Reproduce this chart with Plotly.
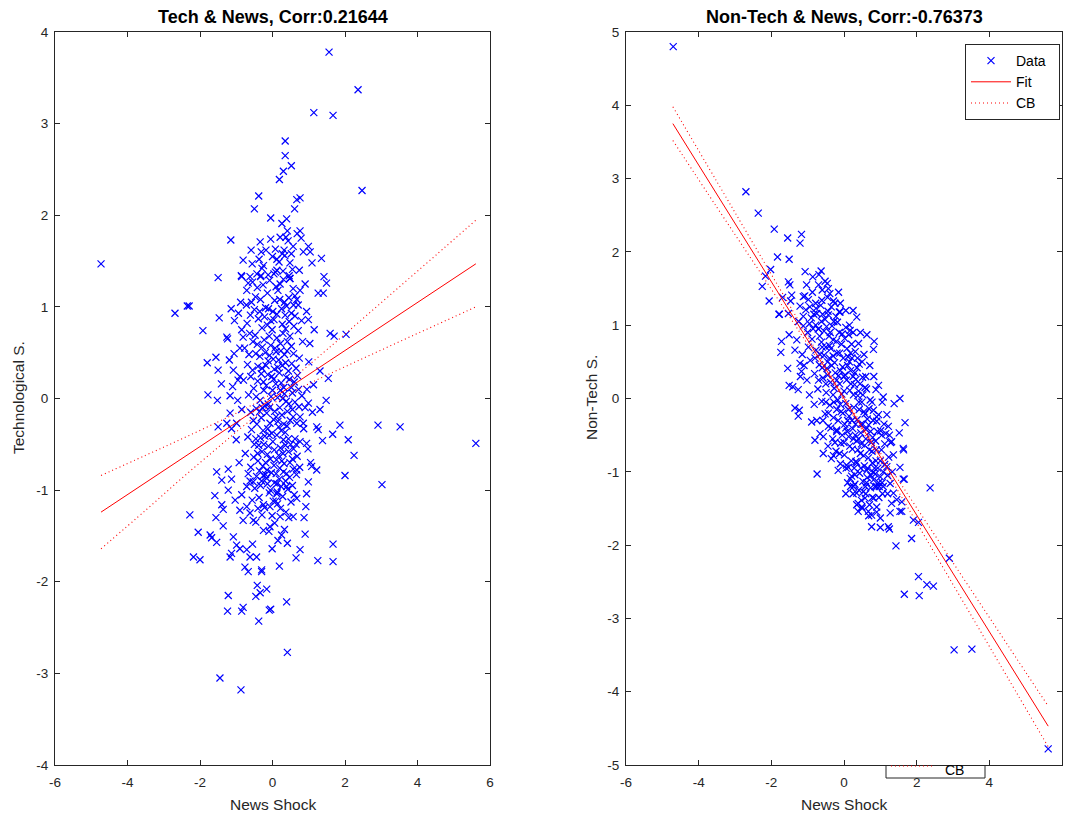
import plotly.graph_objects as go

# ---------------- data ----------------
tech_points = [
    (-4.73, 1.47), (5.61, -0.49), (1.56, 3.78), (2.36, 3.37), (1.14, 3.12), (1.67, 3.09),
    (2.47, 2.27), (2.91, -0.29), (3.52, -0.31), (3.02, -0.94), (2.25, -0.62), (2.0, -0.84),
    (1.67, -1.59), (1.67, -1.78), (1.25, -1.77), (-2.69, 0.93), (-2.3, 1.01), (-2.28, -1.27),
    (-2.18, -1.73), (-2.0, -1.76), (-1.45, -3.05), (-0.87, -3.18), (0.41, -2.77),
    (0.35, 2.81), (0.35, 2.65), (0.52, 2.54), (0.30, 2.48), (0.19, 2.39), (-0.38, 2.21),
    (0.76, 2.19), (0.67, 2.17), (-0.50, 2.07), (0.61, 2.07), (-0.05, 1.97), (0.39, 1.96),
    (0.26, 1.91), (0.41, 1.83), (0.76, 1.83), (0.68, 1.80), (-1.15, 1.73), (-0.34, 1.71),
    (-0.05, 1.74), (0.21, 1.76), (0.37, 1.76), (0.79, 1.75), (-0.59, 1.62), (0.08, 1.63),
    (0.32, 1.62), (0.57, 1.66), (0.99, 1.66), (0.85, 1.60), (1.04, 1.60), (1.35, 1.53),
    (-0.81, 1.51), (0.12, 1.52), (0.34, 1.56), (-0.56, 1.47), (0.48, 1.48), (1.09, 1.48),
    (-0.29, 1.42), (0.74, 1.40), (0.12, 1.40), (-1.50, 1.32), (-0.86, 1.34), (-0.62, 1.33),
    (-0.32, 1.34), (0.04, 1.36), (0.46, 1.34), (1.42, 1.33),
    (-2.35, 1.01), (-1.14, 0.98), (-1.47, 0.88), (-1.92, 0.74), (-1.24, 0.65), (-1.56, 0.45),
    (-1.80, 0.39), (-1.50, 0.31), (-1.41, 0.16), (-1.78, 0.04), (-1.52, -0.02), (-1.17, 0.03),
    (-1.10, 0.13), (-1.06, 0.49), (-1.19, 0.42), (1.59, 0.71), (2.03, 0.70), (1.70, 0.68),
    (1.03, 0.60), (1.54, 0.22), (1.31, 0.30), (1.48, -0.02), (1.31, -0.12), (1.86, -0.29),
    (1.22, -0.31), (0.99, -0.05), (1.13, 0.15), (0.94, 0.95), (0.99, 0.86), (1.26, 1.15),
    (1.40, 1.15), (1.49, 1.26), (0.48, 1.31), (0.76, 1.18), (0.67, 1.08), (-0.33, 1.33),
    (-0.67, 1.26), (-0.71, 1.18), (-0.85, 1.33), (-0.94, 0.93), (-0.85, 0.75), (-0.81, 0.67),
    (-1.26, 0.67), (-1.08, 0.31), (-0.90, 0.24), (-1.17, -0.16), (-0.99, -0.27), (-1.26, -0.27),
    (0.76, -0.20), (0.85, -0.27),
    (-1.50, -0.31), (-1.13, -0.33), (1.26, -0.34), (1.66, -0.39), (2.09, -0.45), (1.38, -0.46),
    (0.94, -0.49), (0.76, -0.47), (-1.54, -0.80), (-1.22, -0.77), (-1.40, -0.89), (-1.13, -0.88),
    (-1.22, -1.00), (-1.59, -1.06), (-1.40, -1.16), (-1.36, -1.21), (-1.56, -1.30), (-1.36, -1.39),
    (-2.05, -1.46), (-1.72, -1.49), (-1.68, -1.52), (-1.54, -1.57), (-1.08, -1.51), (-0.99, -1.60),
    (-0.90, -1.64), (-1.13, -1.69), (-1.17, -1.73), (-0.71, -1.65), (-0.55, -1.59), (-0.62, -1.73),
    (-0.44, -1.73), (-0.76, -1.84), (-0.67, -1.89), (-0.30, -1.87), (0.19, -1.83), (-0.01, -1.64),
    (0.25, -1.49), (0.41, -1.58), (0.76, -1.65), (0.65, -1.74), (0.90, -1.48), (0.87, -1.30),
    (0.92, -1.18), (0.57, -1.29), (0.21, -1.29), (0.94, -1.04), (0.67, -1.09), (0.99, -0.91),
    (1.22, -0.78), (1.08, -0.74), (0.67, -0.78), (0.39, -0.82), (0.12, -1.04), (-0.07, -1.18),
    (-0.25, -1.16), (-0.71, -1.18), (-0.62, -1.25), (-0.53, -1.33), (-0.25, -1.44), (-0.07, -1.40),
    (-0.85, -1.05), (-1.03, -1.11), (-0.90, -1.22), (-0.81, -1.33), (-0.71, -0.96), (-0.53, -0.91),
    (-0.16, -0.87), (0.12, -0.93), (0.39, -0.96), (-0.67, -0.82), (-0.25, -0.84),
    (-0.30, -1.89), (-0.42, -2.04), (-0.16, -2.08), (-0.34, -2.12), (-0.46, -2.16), (-1.22, -2.15),
    (0.39, -2.22), (-1.24, -2.32), (-0.85, -2.32), (-0.81, -2.28), (-0.09, -2.31), (-0.05, -2.30),
    (-0.38, -2.43),
    (-0.42, 1.21), (0.15, 1.18), (0.33, 1.05), (-0.11, 0.98), (0.52, 0.93), (-0.61, 0.91),
    (0.04, 0.86), (0.27, 0.81), (-0.29, 0.77), (0.71, 0.74), (-0.48, 0.69), (0.12, 0.66),
    (0.41, 0.62), (-0.05, 0.58), (-0.77, 0.55), (0.23, 0.52), (0.58, 0.49), (-0.35, 0.46),
    (0.02, 0.43), (0.36, 0.39), (-0.18, 0.36), (0.65, 0.33), (-0.55, 0.31), (0.19, 0.28),
    (-0.02, 0.24), (0.47, 0.21), (-0.41, 0.19), (0.09, 0.16), (0.31, 0.12), (-0.24, 0.09),
    (0.55, 0.06), (-0.66, 0.04), (0.14, 0.01), (0.38, -0.03), (-0.12, -0.06), (0.73, -0.09),
    (-0.45, -0.11), (0.06, -0.14), (0.26, -0.18), (-0.31, -0.21), (0.49, -0.24), (-0.07, -0.27),
    (0.17, -0.31), (-0.58, -0.34), (0.35, -0.37), (-0.21, -0.41), (0.62, -0.44), (0.01, -0.47),
    (-0.38, -0.51), (0.22, -0.54), (0.44, -0.58), (-0.14, -0.61), (-0.52, -0.64), (0.11, -0.67),
    (0.32, -0.71), (-0.27, -0.74), (0.57, -0.77), (-0.03, -0.81), (-0.44, -0.85), (0.19, -0.88),
    (0.05, -0.92), (-0.33, -0.95), (0.42, -0.99), (-0.09, -1.03), (0.28, -1.07), (-0.56, -1.11),
    (0.14, -1.15), (-0.22, -1.19), (0.37, -1.24), (-0.01, -1.28),
    (-0.25, 1.45), (0.08, 1.38), (0.48, 1.31), (-0.55, 1.27), (0.21, 1.25), (-0.14, 1.15),
    (0.62, 1.12), (-0.33, 1.08), (0.39, 1.01), (-0.72, 1.02), (0.01, 0.95), (-0.22, 0.89),
    (0.46, 0.84), (0.83, 0.62), (-0.63, 0.71), (0.29, 0.71), (-0.09, 0.68), (0.52, 0.57),
    (-0.28, 0.56), (0.10, 0.51), (-0.46, 0.49), (0.74, 0.44), (-0.12, 0.41), (0.27, 0.36),
    (-0.69, 0.37), (0.44, 0.30), (-0.31, 0.27), (0.03, 0.21), (0.60, 0.18), (-0.17, 0.14),
    (-0.52, 0.11), (0.22, 0.09), (0.81, 0.03), (-0.04, 0.02), (-0.34, -0.02), (0.45, -0.06),
    (0.20, -0.10), (-0.60, -0.15), (-0.16, -0.16), (0.57, -0.20), (0.03, -0.23), (-0.43, -0.28),
    (0.31, -0.28), (0.86, -0.33), (-0.26, -0.35), (0.12, -0.40), (-0.68, -0.42), (0.50, -0.50),
    (-0.11, -0.52), (0.29, -0.60), (-0.40, -0.68), (0.68, -0.63), (0.04, -0.73), (-0.19, -0.83),
    (0.47, -0.86), (-0.62, -0.90), (0.24, -0.96), (-0.06, -1.00), (0.60, -1.05), (-0.37, -1.08),
    (0.09, -1.12),
    (-0.90, 0.55), (-0.95, 0.20), (-0.85, -0.12), (-1.00, -0.45), (-0.92, -0.70), (1.00, 0.40),
    (0.95, 0.10), (1.10, -0.15), (0.98, -0.55), (1.15, 0.75), (-1.05, 0.85), (-0.88, 1.05),
    (0.90, 1.25), (-0.96, -0.02), (1.05, -0.70),
    (-0.37, 1.52), (0.27, 1.58), (0.55, 1.41), (-0.08, 1.29), (0.18, 1.49), (-0.47, 1.11),
    (0.71, 1.02), (0.06, 1.07), (-0.19, 0.99), (0.35, 0.91), (-0.39, 0.87), (0.59, 0.79),
    (-0.01, 0.75), (0.22, 0.60), (-0.54, 0.62), (0.48, 0.68), (-0.23, 0.64), (0.07, 0.55),
    (0.33, 0.48), (-0.08, 0.47), (-0.60, 0.24), (0.14, 0.34), (0.53, 0.38), (-0.29, 0.33),
    (0.69, 0.25), (-0.13, 0.26), (0.38, 0.23), (-0.45, 0.02), (0.24, 0.17), (0.00, 0.09),
    (-0.21, -0.08), (0.62, -0.04), (0.33, 0.05), (-0.53, -0.24), (0.10, -0.20), (0.41, -0.14),
    (-0.35, -0.14), (0.67, -0.27), (0.24, -0.35), (-0.13, -0.33), (-0.46, -0.44), (0.44, -0.44),
    (0.05, -0.56), (-0.29, -0.58), (0.36, -0.51), (0.55, -0.66), (-0.06, -0.66), (0.20, -0.76),
    (-0.36, -0.79), (0.66, -0.83), (-0.14, -0.93), (0.36, -0.90), (-0.49, -0.98), (0.13, -1.02),
    (0.51, -1.13), (-0.29, -1.27), (0.22, -1.20), (-0.46, -1.35), (0.06, -1.36), (0.33, -1.43),
    (-0.18, 1.62), (0.43, 1.72), (0.00, 1.55), (0.29, 1.39), (-0.43, 1.36), (0.57, 1.20),
    (-0.26, 1.24), (0.20, 1.08), (-0.58, 1.05), (0.12, 0.92), (0.45, 1.10), (-0.35, 0.95),
    (0.62, 0.90), (-0.14, 0.80), (0.36, 0.76), (-0.42, 0.59), (0.17, 0.42), (-0.25, 0.18),
    (0.52, 0.12), (-0.09, -0.40), (0.30, -0.45), (-0.24, -0.50), (0.58, -0.55), (-0.41, -0.60),
    (0.17, -0.62), (-0.19, -0.70), (0.48, -0.70), (0.10, -0.82), (-0.30, -0.90), (0.30, -0.80),
    (-0.31, 1.60), (0.52, 1.58), (0.10, 1.22), (-0.50, 0.97), (0.25, 0.98), (-0.05, 0.85),
    (0.58, 1.02), (-0.70, 0.82), (0.40, 0.52), (-0.20, 0.50), (-0.65, 0.48), (0.05, 0.32),
    (0.72, 0.10), (-0.40, 0.35), (0.28, 0.00), (-0.28, -0.10), (0.55, -0.12), (-0.08, -0.10),
    (0.15, -0.25), (-0.50, -0.50), (0.40, -0.30), (-0.02, -0.38), (0.65, -0.50), (-0.33, -0.43),
    (0.26, -0.68), (-0.15, -0.78), (0.55, -0.95), (-0.40, -1.20), (0.02, -1.12), (0.45, -1.30),
    (-0.10, -1.45), (0.15, -1.55), (-0.60, -0.75), (0.75, -0.75), (0.80, 0.85), (-0.80, 0.20),
    (0.90, -0.10), (-0.75, -0.60), (0.30, 1.30), (-0.12, 1.35),
]

nontech_points = [
    (-4.70, 4.80), (5.62, -4.78), (-2.70, 2.82), (-2.36, 2.53), (-1.92, 2.31), (2.90, -2.18),
    (3.03, -3.43), (3.52, -3.42), (2.37, -1.22), (2.05, -1.69), (1.86, -1.91), (2.05, -2.43),
    (2.28, -2.54), (2.46, -2.56), (1.66, -2.67), (2.07, -2.69), (1.43, -2.01), (1.63, -1.10),
    (1.59, -1.41), (1.59, -1.54), (-0.74, -1.03),
    (-1.17, 2.24), (-1.55, 2.19), (-1.21, 2.12), (-1.83, 1.93), (-1.51, 1.90), (-2.02, 1.76),
    (-2.16, 1.67), (-1.07, 1.73), (-0.63, 1.74), (-0.69, 1.69), (-0.86, 1.66), (-2.25, 1.53),
    (-1.53, 1.59), (-1.49, 1.55), (-1.03, 1.55), (-0.46, 1.57), (-0.43, 1.50), (-1.44, 1.41),
    (-1.69, 1.38), (-2.06, 1.33), (-1.12, 1.39), (-0.39, 1.43), (-0.61, 1.34), (-0.29, 1.33),
    (-1.47, 1.33), (-1.21, 1.26), (-0.94, 1.25), (-0.77, 1.23), (-1.79, 1.15), (-0.13, 1.18),
    (0.35, 1.11), (-1.53, 1.16), (-1.12, 1.12), (-0.75, 1.16), (-0.43, 1.14),
    (-1.78, 1.15), (-0.11, 1.18), (0.17, 0.93), (0.63, 0.87), (0.83, 0.78), (0.81, 0.67),
    (-1.72, 0.78), (-1.74, 0.63), (-1.51, 0.87), (-1.35, 0.66), (-1.55, 0.41), (-1.21, 0.48),
    (-1.17, 0.37), (-1.51, 0.18), (-1.41, 0.16), (-1.26, 0.12), (-1.35, -0.13), (-1.23, -0.16),
    (-1.26, -0.24), (-0.89, -0.32), (-0.80, -0.57), (-0.57, -0.52), (-0.57, -0.75), (1.54, 0.00),
    (1.38, -0.07), (1.08, 0.02), (0.88, 0.12), (1.68, -0.33), (1.52, -0.47), (1.22, -0.38),
    (1.31, -0.59), (1.63, -0.68), (1.36, -0.77), (1.04, -0.50), (0.90, -0.25),
    (-0.29, -0.78), (-0.16, -0.98), (1.64, -0.70), (1.54, -0.94), (1.66, -1.10), (1.18, -0.93),
    (1.00, -1.07), (1.27, -1.16), (1.36, -1.29), (1.45, -1.38), (1.31, -1.43), (1.54, -1.54),
    (1.27, -1.56), (1.00, -1.63), (0.76, -1.75), (1.00, -1.76), (1.25, -1.78), (1.22, -1.75),
    (0.76, -1.59), (0.67, -1.54), (0.39, -1.54), (0.49, -1.48), (0.90, -1.48), (0.39, -1.43),
    (0.58, -1.36), (0.35, -1.29), (0.53, -1.27), (0.26, -1.20), (0.17, -1.09), (0.30, -1.04),
    (0.90, -1.20), (1.08, -1.20), (0.81, -1.11), (0.63, -0.98), (0.35, -0.88), (0.07, -0.91),
    (1.91, -1.66),
    (-0.95, 1.02), (-0.71, 0.95), (-0.52, 1.08), (-0.33, 0.99), (-0.18, 1.04), (0.05, 0.97),
    (-0.88, 0.81), (-0.62, 0.77), (-0.41, 0.85), (-0.21, 0.78), (0.02, 0.82), (0.21, 0.74),
    (-0.77, 0.66), (-0.55, 0.59), (-0.36, 0.68), (-0.12, 0.62), (0.11, 0.57), (0.31, 0.64),
    (-0.93, 0.52), (-0.68, 0.46), (-0.47, 0.41), (-0.26, 0.49), (-0.04, 0.43), (0.18, 0.38),
    (0.42, 0.47), (-0.81, 0.34), (-0.58, 0.28), (-0.37, 0.22), (-0.15, 0.31), (0.07, 0.25),
    (0.29, 0.19), (0.51, 0.29), (-0.72, 0.13), (-0.49, 0.08), (-0.27, 0.14), (-0.06, 0.06),
    (0.16, 0.11), (0.38, 0.04), (0.62, 0.13), (-0.61, -0.04), (-0.39, -0.09), (-0.17, -0.02),
    (0.05, -0.07), (0.27, -0.12), (0.49, -0.05), (0.72, -0.02), (-0.52, -0.21), (-0.29, -0.26),
    (-0.08, -0.18), (0.14, -0.24), (0.36, -0.29), (0.58, -0.21), (0.81, -0.16), (-0.43, -0.38),
    (-0.20, -0.43), (0.02, -0.35), (0.24, -0.41), (0.46, -0.47), (0.68, -0.36), (0.90, -0.31),
    (-0.31, -0.55), (-0.09, -0.61), (0.13, -0.52), (0.35, -0.58), (0.57, -0.64), (0.79, -0.53),
    (1.01, -0.44), (-0.22, -0.72), (0.01, -0.77), (0.23, -0.69), (0.45, -0.75), (0.67, -0.81),
    (0.89, -0.70), (1.12, -0.62), (-0.10, -0.89), (0.12, -0.94), (0.33, -0.86), (0.56, -0.92),
    (0.78, -0.88), (1.00, -0.85), (0.21, -1.06), (0.43, -1.02), (0.64, -1.08), (0.86, -1.03),
    (0.30, -1.17), (0.52, -1.13), (0.73, -1.22), (0.95, -1.15), (0.60, -1.30), (0.82, -1.36),
    (0.48, -1.39), (0.70, -1.45),
    (-1.05, 1.21), (-0.83, 1.15), (-0.64, 1.27), (-0.44, 1.19), (-0.25, 1.30), (-1.12, 0.99),
    (-0.98, 0.70), (-1.10, 0.45), (-1.02, 0.25), (-0.95, 0.05), (-0.82, -0.08), (-0.75, -0.30),
    (-0.66, -0.48), (-0.44, -0.65), (-0.35, -0.82), (0.25, 0.90), (0.40, 0.75), (0.55, 0.60),
    (0.71, 0.45), (0.82, 0.30), (0.95, 0.18), (1.05, -0.05), (1.18, -0.22), (1.15, -0.48),
    (1.23, -0.80), (1.08, -1.00), (-0.55, 0.92), (-0.30, 0.58), (-0.60, 0.42), (0.30, 0.35),
    (0.10, -0.30), (0.42, -0.15), (-0.12, 0.20), (0.60, -0.42), (0.75, -0.60), (0.20, -0.85),
    (0.40, -0.55), (-0.05, -0.50), (-0.20, -0.15), (0.00, 0.10), (-0.40, 0.55), (0.15, 0.50),
    (-0.70, 0.95), (0.05, 1.20), (-0.15, 1.45), (-0.45, 1.38), (0.25, -1.30), (0.10, -1.15),
    (0.05, -1.30), (0.35, -1.45),
    (-1.00, 0.90), (-0.90, 1.10), (-0.80, 0.55), (-0.78, 1.00), (-0.67, 0.85), (-0.66, 0.60),
    (-0.59, 1.15), (-0.50, 0.70), (-0.48, 0.98), (-0.45, 0.32), (-0.38, 0.90), (-0.34, 0.45),
    (-0.30, 0.80), (-0.24, 0.35), (-0.22, 1.12), (-0.19, 0.62), (-0.13, 0.90), (-0.10, 0.38),
    (-0.07, 0.74), (-0.02, 0.55), (0.03, 0.32), (0.08, 0.68), (0.10, 0.45), (0.13, 0.87),
    (0.19, 0.20), (0.22, 0.55), (0.26, 0.05), (0.33, 0.26), (0.37, 0.55), (0.41, -0.05),
    (0.44, 0.20), (0.47, -0.35), (0.52, 0.05), (0.55, -0.18), (0.60, -0.55), (0.64, -0.28),
    (0.69, -0.14), (0.73, -0.45), (0.77, -0.72), (0.80, -0.30), (0.84, -0.95), (0.87, -0.58),
    (0.92, -0.45), (0.97, -1.20), (1.03, -0.70), (1.06, -1.30), (1.12, -0.90), (1.20, -1.05),
    (1.28, -0.60), (1.33, -1.00),
    (-0.58, -0.30), (-0.50, -0.05), (-0.43, -0.20), (-0.36, -0.40), (-0.28, -0.05), (-0.25, -0.60),
    (-0.16, -0.30), (-0.12, -0.75), (-0.03, -0.20), (0.00, -0.60), (0.06, -0.95), (0.09, -0.45),
    (0.16, -0.65), (0.18, -1.20), (0.22, -0.30), (0.28, -0.95), (0.31, -0.50), (0.38, -0.70),
    (0.41, -1.25), (0.46, -0.95), (0.50, -1.50), (0.54, -0.78), (0.59, -1.20), (0.65, -0.95),
    (0.68, -1.60), (0.74, -1.05), (0.78, -1.35), (0.85, -1.20), (0.90, -1.55), (0.93, -0.95),
    (-1.30, 0.80), (-1.25, 1.05), (-1.20, 0.30), (-1.15, 0.60), (-1.08, 1.40), (-0.98, 1.35),
    (-0.87, 1.45), (-0.78, 1.30), (-0.70, 1.55), (-0.60, 1.48), (-0.52, 1.60), (-0.35, 1.25),
    (-0.10, 1.30), (0.15, 1.00), (0.25, 1.20), (0.45, 0.90), (0.60, 0.30), (0.50, 0.50),
    (-0.85, 0.95), (-0.62, 1.05), (-0.40, 0.72), (-0.28, 1.05), (-0.05, 0.88), (0.18, 0.62),
    (0.36, 0.42), (0.58, 0.15), (0.77, -0.05), (0.95, -0.22), (1.10, -0.35), (1.25, -0.50),
    (-0.70, 0.25), (-0.50, 0.20), (-0.30, 0.05), (-0.10, -0.08), (0.12, -0.15), (0.32, -0.35),
    (0.52, -0.35), (0.70, -0.70), (0.88, -0.85), (1.05, -1.15), (1.20, -1.30), (-0.20, -0.45),
    (0.05, -0.40), (0.26, -0.55), (0.48, -0.62), (0.62, -1.15), (0.80, -1.00), (0.96, -1.35),
    (-0.60, 0.70), (-0.45, 0.50), (-0.20, 0.25), (0.00, 0.30), (0.25, 0.30), (0.40, 0.10),
]

# Fitted lines and confidence bands
tech_fit_x = [-4.73, 5.61]
tech_fit_y = [-1.24, 1.47]
tech_cb_x = [-4.73, -3.5, -2.5, -1.5, -0.75, 0.0, 0.75, 1.5, 2.5, 3.5, 4.5, 5.61]
tech_cb_up = [-0.84, -0.62, -0.44, -0.255, -0.11, 0.06, 0.284, 0.533, 0.874, 1.218, 1.562, 1.946]
tech_cb_lo = [-1.64, -1.22, -0.87, -0.533, -0.284, -0.06, 0.11, 0.255, 0.438, 0.62, 0.80, 1.00]

nontech_fit_x = [-4.71, 5.62]
nontech_fit_y = [3.75, -4.47]
nontech_cb_x = [-4.71, -3.5, -2.5, -1.5, -0.75, 0.0, 0.75, 1.5, 2.5, 3.5, 4.5, 5.62]
nontech_cb_up = [3.98, 2.96, 2.115, 1.272, 0.642, 0.026, -0.552, -1.116, -1.865, -2.613, -3.36, -4.197]
nontech_cb_lo = [3.52, 2.61, 1.865, 1.116, 0.552, -0.026, -0.642, -1.272, -2.115, -2.959, -3.804, -4.751]

x_ticks = [-6, -4, -2, 0, 2, 4, 6]
tech_y_ticks = [-4, -3, -2, -1, 0, 1, 2, 3, 4]
nontech_y_ticks = [-5, -4, -3, -2, -1, 0, 1, 2, 3, 4, 5]

titles = ["Tech & News, Corr:0.21644", "Non-Tech & News, Corr:-0.76373"]
x_title = "News Shock"
y_titles = ["Technological S.", "Non-Tech S."]
legend_names = ["Data", "Fit", "CB"]

# ---------------- figure ----------------
W, H = 1065, 816
AX = "#262626"
FONT = "Liberation Sans, Arial, sans-serif"
DOT = "1px,3px"
PAD = "\u00a0\u00a0"

def px_x(p):
    return p / W

def px_y(p):
    return 1 - p / H

fig = go.Figure()

panels = [
    (tech_points, tech_fit_x, tech_fit_y, tech_cb_x, tech_cb_up, tech_cb_lo, "x", "y", False),
    (nontech_points, nontech_fit_x, nontech_fit_y, nontech_cb_x, nontech_cb_up, nontech_cb_lo, "x2", "y2", True),
]
for pts, fx, fy, cx, cu, cl, xa, ya, leg in panels:
    fig.add_trace(go.Scatter(
        x=[p[0] for p in pts], y=[p[1] for p in pts], mode="markers", name=legend_names[0] + PAD,
        marker=dict(symbol="x-thin", size=7, line=dict(color="#0000FF", width=1.2), color="#0000FF"),
        xaxis=xa, yaxis=ya, showlegend=leg))
    fig.add_trace(go.Scatter(
        x=fx, y=fy, mode="lines", name=legend_names[1] + PAD, line=dict(color="#FF0000", width=1),
        xaxis=xa, yaxis=ya, showlegend=leg))
    fig.add_trace(go.Scatter(
        x=cx, y=cu, mode="lines", name=legend_names[2] + PAD,
        line=dict(color="#FF0000", width=1.1, dash=DOT, shape="spline"),
        xaxis=xa, yaxis=ya, showlegend=leg, legendgroup="cb"))
    fig.add_trace(go.Scatter(
        x=cx, y=cl, mode="lines", name=legend_names[2],
        line=dict(color="#FF0000", width=1.1, dash=DOT, shape="spline"),
        xaxis=xa, yaxis=ya, showlegend=False, legendgroup="cb"))

common = dict(showline=True, linecolor=AX, linewidth=1, mirror="allticks", ticks="inside",
              ticklen=5, tickcolor=AX, tickwidth=1, showgrid=False, zeroline=False,
              tickfont=dict(family=FONT, size=13.5, color=AX), automargin=False)

fig.update_layout(
    width=W, height=H, margin=dict(l=0, r=0, t=0, b=0),
    paper_bgcolor="white", plot_bgcolor="white",
    xaxis=dict(domain=[px_x(55), px_x(490)], range=[-6, 6], tickvals=x_ticks,
               ticktext=[str(v) for v in x_ticks], anchor="y", ticklabelstandoff=5, **common),
    yaxis=dict(domain=[px_y(765), px_y(32)], range=[-4, 4], tickvals=tech_y_ticks,
               ticktext=[str(v) for v in tech_y_ticks], anchor="x", ticklabelstandoff=3, **common),
    xaxis2=dict(domain=[px_x(626), px_x(1062)], range=[-6, 6], tickvals=x_ticks,
                ticktext=[str(v) for v in x_ticks], anchor="y2", ticklabelstandoff=5, **common),
    yaxis2=dict(domain=[px_y(765), px_y(32)], range=[-5, 5], tickvals=nontech_y_ticks,
                ticktext=[str(v) for v in nontech_y_ticks], anchor="x2", ticklabelstandoff=3, **common),
    legend=dict(x=px_x(1060), xanchor="right", y=px_y(44), yanchor="top",
                bgcolor="white", bordercolor=AX, borderwidth=1,
                font=dict(family=FONT, size=14, color="black"),
                itemwidth=40, tracegroupgap=0),
    showlegend=True,
)

ann = []
for cx_px, t in zip([272.5, 844], titles):
    ann.append(dict(x=px_x(cx_px), y=px_y(17), xref="paper", yref="paper", text=f"<b>{t}</b>",
                    showarrow=False, font=dict(family=FONT, size=18, color="black"),
                    xanchor="center", yanchor="middle"))
    ann.append(dict(x=px_x(cx_px), y=px_y(804), xref="paper", yref="paper", text=x_title,
                    showarrow=False, font=dict(family=FONT, size=15.5, color=AX),
                    xanchor="center", yanchor="middle"))
for xp, t in zip([18, 591], y_titles):
    ann.append(dict(x=px_x(xp), y=px_y(398), xref="paper", yref="paper", text=t, textangle=-90,
                    showarrow=False, font=dict(family=FONT, size=15.5, color=AX),
                    xanchor="center", yanchor="middle"))
# clipped duplicate legend remnant under the right axes
ann.append(dict(x=px_x(943), y=px_y(770), xref="paper", yref="paper", text="CB",
                showarrow=False, font=dict(family=FONT, size=14, color="black"),
                xanchor="left", yanchor="middle"))
fig.update_layout(annotations=ann)

shapes = [
    dict(type="line", xref="paper", yref="paper", x0=px_x(886), x1=px_x(886), y0=px_y(765), y1=px_y(778),
         line=dict(color=AX, width=1)),
    dict(type="line", xref="paper", yref="paper", x0=px_x(886), x1=px_x(985), y0=px_y(778), y1=px_y(778),
         line=dict(color=AX, width=1)),
    dict(type="line", xref="paper", yref="paper", x0=px_x(985), x1=px_x(985), y0=px_y(765), y1=px_y(778),
         line=dict(color=AX, width=1)),
    dict(type="line", xref="paper", yref="paper", x0=px_x(891), x1=px_x(935), y0=px_y(766), y1=px_y(766),
         line=dict(color="#FF0000", width=1, dash=DOT)),
]
fig.update_layout(shapes=shapes)

fig.write_html("out.html", config={"displayModeBar": False},
               post_script="document.body.style.margin='0';document.body.style.overflow='hidden';")
